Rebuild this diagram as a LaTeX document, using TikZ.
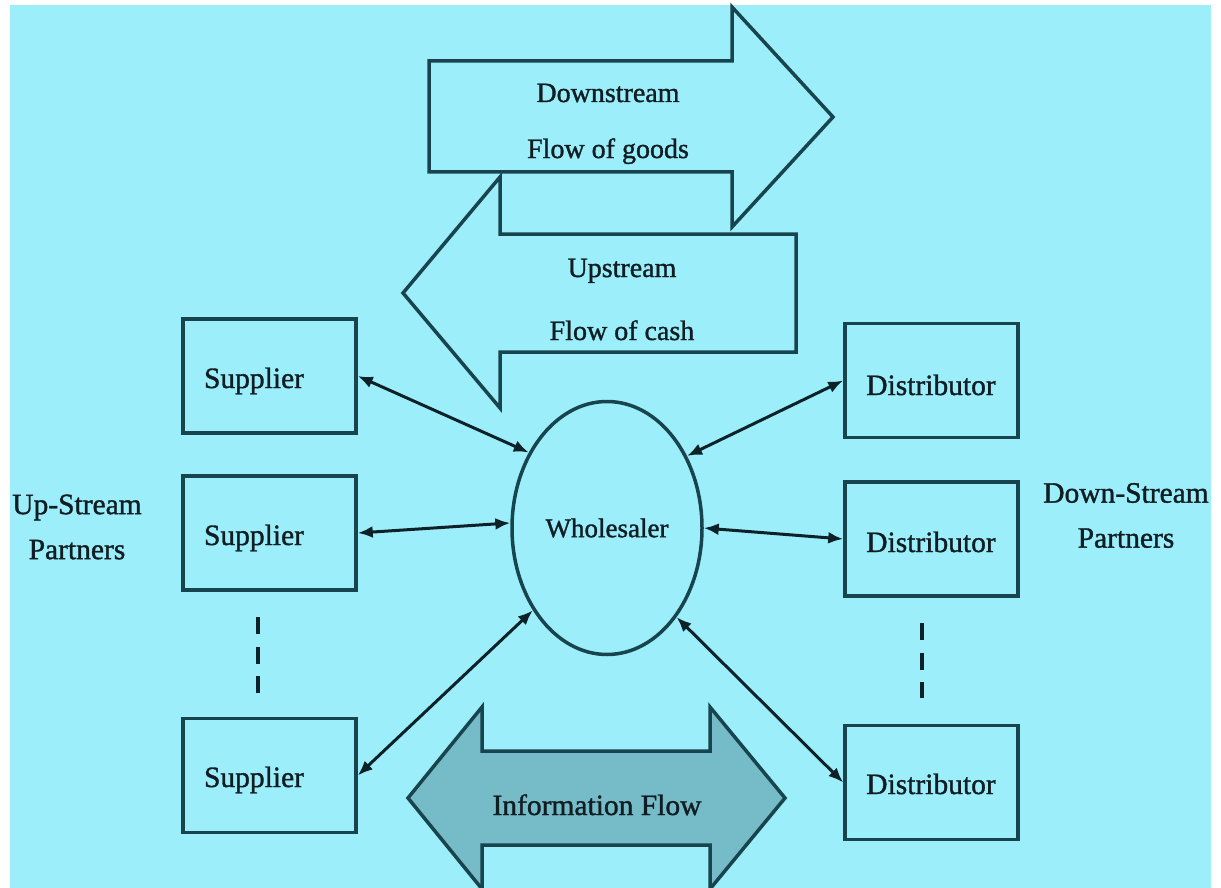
\documentclass[tikz,border=0pt]{standalone}
\usepackage{fontspec}
\setmainfont{Liberation Serif}[FakeBold=1.2]
\usetikzlibrary{arrows.meta,shapes.geometric}
\definecolor{bgc}{RGB}{156,239,250}
\definecolor{edgec}{RGB}{24,68,78}
\definecolor{linkc}{RGB}{12,34,40}
\definecolor{infofill}{RGB}{118,188,200}
\definecolor{txtc}{RGB}{16,30,36}
\begin{document}
\begin{tikzpicture}[x=1pt,y=-1pt,
  lbl/.style={text=txtc, font=\fontsize{29.5}{45}\selectfont, inner sep=0pt},
  toplbl/.style={text=txtc, font=\fontsize{28}{32}\selectfont, inner sep=0pt, anchor=base},
  partbox/.style={draw=edgec, line width=3.5pt, fill=bgc, minimum width=173pt, minimum height=114pt, inner sep=0pt},
  bigarrow/.style={draw=edgec, line width=3.5pt, line join=miter},
  link/.style={draw=linkc, line width=3pt, {Latex[length=15pt,width=12pt]}-{Latex[length=15pt,width=12pt]}},
  dotsline/.style={draw=linkc, line width=4.5pt, dash pattern=on 17pt off 12.5pt}
]
\useasboundingbox (0,0) rectangle (1221,888);
\fill[white] (0,0) rectangle (1221,888);
\fill[bgc] (10,5) rectangle (1211,888);

% big flow arrows
\draw[bigarrow, fill=bgc] (429,61) -- (732,61) -- (732,7) -- (833,117) -- (732,227) -- (732,172) -- (429,172) -- cycle;
\draw[bigarrow, fill=bgc] (796,234) -- (500,234) -- (500,177) -- (403,293) -- (500,408) -- (500,352) -- (796,352) -- cycle;
\draw[bigarrow, fill=infofill] (408,798) -- (482,707) -- (482,751) -- (710,751) -- (710,707) -- (785,798) -- (710,889) -- (710,845) -- (482,845) -- (482,889) -- cycle;

\node[toplbl] (dsA) at (608,102) {Downstream};
\node[toplbl] (dsB) at (608,158) {Flow of goods};
\node[toplbl] (usA) at (622,277) {Upstream};
\node[toplbl] (usB) at (622,340) {Flow of cash};
\node[lbl, anchor=base] (info) at (597,815) {Information Flow};

% partner boxes
\node[partbox] (s1) at (269.5,376) {};
\node[partbox] (s2) at (269.5,533) {};
\node[partbox] (s3) at (269.5,775.5) {};
\node[partbox] (d1) at (931.5,380.5) {};
\node[partbox] (d2) at (931.5,539) {};
\node[partbox] (d3) at (931.5,782.5) {};

\node[lbl, anchor=base] (s1t) at (254,388) {Supplier};
\node[lbl, anchor=base] (s2t) at (254,545) {Supplier};
\node[lbl, anchor=base] (s3t) at (254,787) {Supplier};
\node[lbl, anchor=base] (d1t) at (931,395) {Distributor};
\node[lbl, anchor=base] (d2t) at (931,552) {Distributor};
\node[lbl, anchor=base] (d3t) at (931,794) {Distributor};

% wholesaler
\node[ellipse, draw=edgec, line width=3.5pt, fill=bgc, minimum width=190pt, minimum height=253pt, inner sep=0pt,
      text=txtc, font=\fontsize{27}{32}\selectfont] (w) at (607,528) {Wholesaler};

% side labels
\node[lbl, align=center] (up) at (77,527) {Up-Stream\\Partners};
\node[lbl, align=center] (down) at (1126,515.5) {Down-Stream\\Partners};

% dashed continuation marks
\coordinate (sdA) at (258,617);
\coordinate (sdB) at (258,693);
\coordinate (ddA) at (922,623);
\coordinate (ddB) at (922,698);
\draw[dotsline] (sdA) -- (sdB);
\draw[dotsline] (ddA) -- (ddB);

% connectors
\draw[link] (s1.east) -- (w.136);
\draw[link] (s2.east) -- (w.177);
\draw[link] (s3.east) -- (w.228);
\draw[link] (w.42) -- (d1.west);
\draw[link] (w.0) -- (d2.west);
\draw[link] (w.308) -- (d3.west);
\end{tikzpicture}
\end{document}
